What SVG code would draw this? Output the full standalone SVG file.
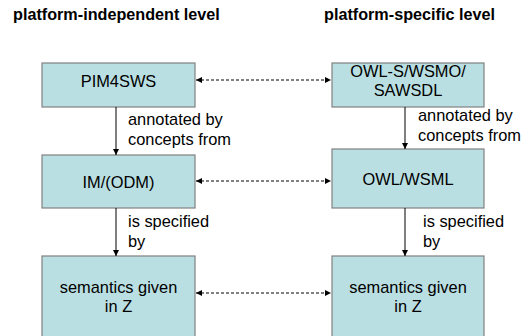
<svg xmlns="http://www.w3.org/2000/svg" width="529" height="336" viewBox="0 0 529 336">
<style>
.box{fill:#BADFE2;stroke:#808080;stroke-width:1.2}
.t{font-family:"Liberation Sans",Arial,sans-serif;font-size:16.4px;fill:#000}
.c{text-anchor:middle}
.h{font-family:"Liberation Sans",Arial,sans-serif;font-size:16.2px;font-weight:bold;fill:#000}
.a{stroke:#000;stroke-width:1;fill:none}
.d{stroke:#000;stroke-width:1;fill:none;stroke-dasharray:3,2}
</style>
<defs>
<marker id="ah" markerWidth="8" markerHeight="8" refX="6" refY="3" orient="auto-start-reverse" markerUnits="userSpaceOnUse">
<path d="M0,0 L6,3 L0,6 z" fill="#000"/>
</marker>
</defs>
<rect width="529" height="336" fill="#fff"/>
<text class="h" x="13" y="20">platform-independent level</text>
<text class="h" x="324" y="20">platform-specific level</text>
<g id="n1"><rect class="box" x="42" y="63" width="153" height="44"/><text class="t c" x="118.5" y="87">PIM4SWS</text></g>
<g id="n2"><rect class="box" x="332" y="63" width="152" height="44"/><text class="t c" x="408" y="77">OWL-S/WSMO/</text><text class="t c" x="408" y="96">SAWSDL</text></g>
<g id="n3"><rect class="box" x="42" y="155" width="153" height="53"/><text class="t c" x="118.5" y="188">IM/(ODM)</text></g>
<g id="n4"><rect class="box" x="332" y="149" width="152" height="59"/><text class="t c" x="408" y="185">OWL/WSML</text></g>
<g id="n5"><rect class="box" x="42" y="256" width="153" height="90"/><text class="t c" x="118.5" y="293">semantics given</text><text class="t c" x="118.5" y="312">in Z</text></g>
<g id="n6"><rect class="box" x="332" y="256" width="152" height="90"/><text class="t c" x="408" y="293">semantics given</text><text class="t c" x="408" y="312">in Z</text></g>
<g id="connectors">
<line class="a" x1="116" y1="107" x2="116" y2="155" marker-end="url(#ah)"/>
<line class="a" x1="405" y1="107" x2="405" y2="149" marker-end="url(#ah)"/>
<line class="a" x1="116" y1="208" x2="116" y2="256" marker-end="url(#ah)"/>
<line class="a" x1="405" y1="208" x2="405" y2="256" marker-end="url(#ah)"/>
<line class="d" x1="196" y1="80" x2="331" y2="80" marker-start="url(#ah)" marker-end="url(#ah)"/>
<line class="d" x1="196" y1="181" x2="331" y2="181" marker-start="url(#ah)" marker-end="url(#ah)"/>
<line class="d" x1="196" y1="293" x2="331" y2="293" marker-start="url(#ah)" marker-end="url(#ah)"/>
<text class="t" x="128" y="125">annotated by</text>
<text class="t" x="128" y="145">concepts from</text>
<text class="t" x="418" y="121">annotated by</text>
<text class="t" x="418" y="141">concepts from</text>
<text class="t" x="128" y="227">is specified</text>
<text class="t" x="128" y="247">by</text>
<text class="t" x="423" y="227">is specified</text>
<text class="t" x="423" y="247">by</text>
</g>
</svg>
